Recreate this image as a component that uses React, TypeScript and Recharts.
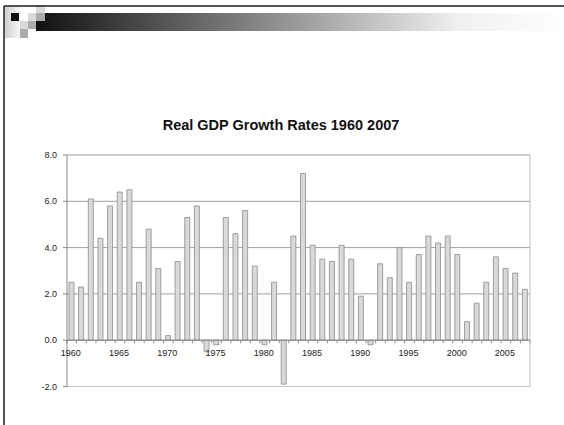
import { BarChart, Bar, XAxis, YAxis, CartesianGrid, ReferenceLine } from 'recharts';

// Annual real GDP growth, percent
const YEARS = [
    1960, 1961, 1962, 1963, 1964, 1965, 1966, 1967, 1968, 1969,
    1970, 1971, 1972, 1973, 1974, 1975, 1976, 1977, 1978, 1979,
    1980, 1981, 1982, 1983, 1984, 1985, 1986, 1987, 1988, 1989,
    1990, 1991, 1992, 1993, 1994, 1995, 1996, 1997, 1998, 1999,
    2000, 2001, 2002, 2003, 2004, 2005, 2006, 2007,
];
const GROWTH = [
    2.5, 2.3, 6.1, 4.4, 5.8, 6.4, 6.5, 2.5, 4.8, 3.1,
    0.2, 3.4, 5.3, 5.8, -0.5, -0.2, 5.3, 4.6, 5.6, 3.2,
    -0.2, 2.5, -1.9, 4.5, 7.2, 4.1, 3.5, 3.4, 4.1, 3.5,
    1.9, -0.2, 3.3, 2.7, 4.0, 2.5, 3.7, 4.5, 4.2, 4.5,
    3.7, 0.8, 1.6, 2.5, 3.6, 3.1, 2.9, 2.2,
];
const Y_TICKS = [-2, 0, 2, 4, 6, 8];

const W = 564;
const H = 425;
const PLOT_TOP = 155;
const PLOT_BOTTOM = 386.5;
const PLOT_LEFT = 67;
const PLOT_RIGHT = 530;
const Y_MIN = -2;
const Y_MAX = 8;
const FONT = '"Liberation Sans", Arial, sans-serif';

const data = YEARS.map((year, i) => ({ year, growth: GROWTH[i] }));

// row of the zero line, where the category axis sits
const zeroY = PLOT_TOP + ((Y_MAX - 0) / (Y_MAX - Y_MIN)) * (PLOT_BOTTOM - PLOT_TOP);
const step = (PLOT_RIGHT - PLOT_LEFT) / YEARS.length;

const YearTick = (props: any) => {
    const { x, payload, index } = props;
    const year = payload.value;
    const last = index === YEARS.length - 1;
    return (
        <g>
            <line x1={x - step / 2} x2={x - step / 2} y1={zeroY} y2={zeroY + 3} stroke="#888" />
            {last && (
                <>
                    <line x1={x + step / 2} x2={x + step / 2} y1={zeroY} y2={zeroY + 3} stroke="#888" />
                    {/* right edge of the plot frame */}
                    <line x1={x + step / 2} x2={x + step / 2} y1={PLOT_TOP} y2={PLOT_BOTTOM} stroke="#bdbdbd" />
                </>
            )}
            {year % 5 === 0 && (
                <text x={x - 1} y={zeroY + 16} textAnchor="middle" fontSize={9} fill="#222" fontFamily={FONT}>
                    {year}
                </text>
            )}
        </g>
    );
};

function Header() {
    return (
        <svg width={W} height={H} style={{ position: 'absolute', left: 0, top: 0 }}>
            <defs>
                <linearGradient id="band" x1="0" x2="1" y1="0" y2="0">
                    <stop offset="0" stopColor="#111" />
                    <stop offset="0.8" stopColor="#f0f0f0" />
                    <stop offset="1" stopColor="#fff" />
                </linearGradient>
                <linearGradient id="strip" x1="0" x2="1" y1="0" y2="0">
                    <stop offset="0" stopColor="#d0d0d0" />
                    <stop offset="1" stopColor="#fff" />
                </linearGradient>
            </defs>
            <rect x={5} y={7} width={18} height={31} fill="url(#strip)" />
            <rect x={36} y={13} width={W - 36} height={18} fill="url(#band)" />
            <rect x={11} y={13} width={8} height={8} fill="#111" />
            <rect x={28} y={13} width={8} height={8} fill="#dadada" />
            <rect x={36} y={5} width={9} height={8} fill="#dadada" />
            <rect x={36} y={13} width={9} height={8} fill="#ababab" />
            <rect x={20} y={21} width={8} height={8} fill="#dadada" />
            <rect x={28} y={21} width={8} height={8} fill="#ababab" />
            <rect x={20} y={29} width={8} height={9} fill="#ababab" />
            <line x1={4} x2={W} y1={6} y2={6} stroke="#1a1a1a" strokeWidth={1.5} />
            <line x1={4} x2={4} y1={6} y2={H} stroke="#1a1a1a" strokeWidth={1.5} />
        </svg>
    );
}

export default function App() {
    return (
        <div style={{ position: 'absolute', left: 0, top: 0, width: W, height: H, background: '#fff' }}>
            <Header />
            <div
                style={{
                    position: 'absolute',
                    left: 0,
                    width: 562,
                    top: 116,
                    textAlign: 'center',
                    fontFamily: FONT,
                    fontWeight: 'bold',
                    fontSize: 14.5,
                    lineHeight: '18px',
                    color: '#111',
                }}
            >
                Real GDP Growth Rates 1960 2007
            </div>
            <div style={{ position: 'absolute', left: 0, top: 0 }}>
                <BarChart
                    width={W}
                    height={H}
                    data={data}
                    margin={{ top: PLOT_TOP, right: W - PLOT_RIGHT, bottom: H - PLOT_BOTTOM - 30, left: PLOT_LEFT - 40 }}
                >
                    <CartesianGrid vertical={false} stroke="#a0a0a0" />
                    <XAxis
                        dataKey="year"
                        height={30}
                        axisLine={false}
                        tickLine={false}
                        interval={0}
                        tick={<YearTick />}
                    />
                    <YAxis
                        width={40}
                        domain={[Y_MIN, Y_MAX]}
                        ticks={Y_TICKS}
                        tickFormatter={(v: number) => v.toFixed(1)}
                        tick={{ fontSize: 9, fill: '#222', fontFamily: FONT }}
                        tickSize={4}
                        tickMargin={6}
                        axisLine={{ stroke: '#888' }}
                        tickLine={{ stroke: '#888' }}
                    />
                    {/* lighter bottom edge of the plot frame */}
                    <ReferenceLine y={Y_MIN} stroke="#c4c4c4" />
                    <Bar
                        dataKey="growth"
                        fill="#d9d9d9"
                        stroke="#8c8c8c"
                        strokeWidth={0.8}
                        barSize={5}
                        isAnimationActive={false}
                    />
                    <ReferenceLine y={0} stroke="#888" />
                </BarChart>
            </div>
        </div>
    );
}
